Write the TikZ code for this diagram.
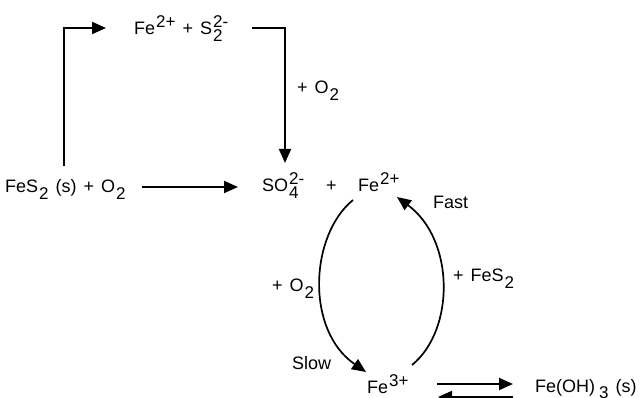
\documentclass[tikz,border=0pt]{standalone}
\usepackage{fontspec}
\setmainfont{Liberation Sans}[WordSpace=1.4]
\usetikzlibrary{arrows.meta}
\newcommand\chsup[1]{\kern1pt\raisebox{7pt}{\fontsize{17}{17}\selectfont #1}}
\newcommand\chsub[1]{\kern1pt\raisebox{-6.5pt}{\fontsize{17}{17}\selectfont #1}}
\newcommand\chboth[2]{\kern1pt\rlap{\raisebox{-7pt}{\fontsize{17}{17}\selectfont #2}}\raisebox{7.5pt}{\fontsize{17}{17}\selectfont #1}}
\begin{document}
\begin{tikzpicture}[x=1pt,y=-1pt,
  font=\fontsize{18}{21}\selectfont,
  txt/.style={inner sep=0pt, anchor=base west},
  arr/.style={line width=2pt, line join=miter, -{Triangle[length=14pt,width=12pt]}},
  carr/.style={line width=1.7pt, -{Triangle[length=14pt,width=12pt]}}]
\useasboundingbox (0,0) rectangle (643,398);
% species
\node[txt] (fes2) at (5,193) {FeS\chsub{2} (s) + O\chsub{2}};
\node[txt] (top) at (134,35) {Fe\chsup{2+} + S\chboth{2-}{2}};
\node[txt] (so4) at (262,192) {SO\chboth{2-}{4}};
\node[txt] (plus) at (326,192) {+};
\node[txt] (fe2) at (358,192) {Fe\chsup{2+}};
\node[txt] (fe3) at (367,393) {Fe\chsup{3+}};
\node[txt] (feoh) at (535,392) {Fe(OH)\,\chsub{3} (s)};
% labels
\node[txt] (lo2a) at (297,94) {+ O\chsub{2}};
\node[txt] (fast) at (433,209) {Fast};
\node[txt] (lfes2) at (453,282) {+ FeS\chsub{2}};
\node[txt] (lo2b) at (272,292) {+ O\chsub{2}};
\node[txt] (slow) at (292,369) {Slow};
% connector end points
\coordinate (a1) at (64,166);
\coordinate (a3) at (106,28);
\coordinate (b1) at (252,28);
\coordinate (b3) at (285,163);
\coordinate (h1) at (142,187);
\coordinate (h2) at (238,187);
\coordinate (l1) at (353,200);
\coordinate (l2) at (366,372);
\coordinate (r1) at (412,365);
\coordinate (r2) at (397,197);
\coordinate (e1) at (437,384);
\coordinate (e2) at (513,384);
\coordinate (e3) at (513,397);
\coordinate (e4) at (438,397);
% connectors
\draw[arr] (a1) |- (a3);
\draw[arr] (b1) -| (b3);
\draw[arr] (h1) -- (h2);
\draw[carr] (l1) .. controls (310,235) and (305,330) .. (l2);
\draw[carr] (r1) .. controls (455,330) and (455,240) .. (r2);
\draw[arr] (e1) -- (e2);
\draw[arr] (e3) -- (e4);
\end{tikzpicture}
\end{document}
